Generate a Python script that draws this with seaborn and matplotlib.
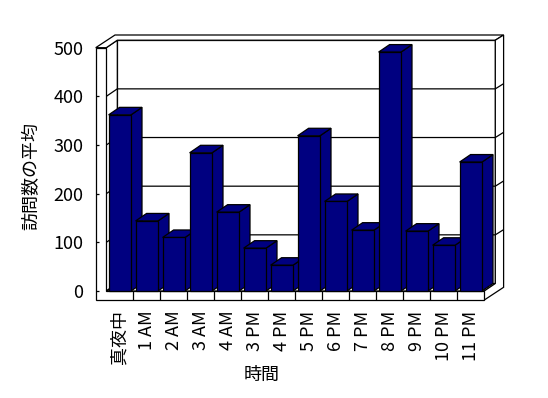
import matplotlib
matplotlib.use("Agg")
import matplotlib.pyplot as plt
import seaborn as sns
import pandas as pd
from matplotlib.patches import Polygon

# ---- data ----
categories = ["真夜中", "1 AM", "2 AM", "3 AM", "4 AM", "3 PM", "4 PM",
              "5 PM", "6 PM", "7 PM", "8 PM", "9 PM", "10 PM", "11 PM"]
values = [362, 144, 110, 284, 162, 88, 53, 319, 184, 125, 491, 123, 94, 265]
y_ticks = [0, 100, 200, 300, 400, 500]
y_tick_labels = ["0", "100", "200", "300", "400", "500"]
y_label = "訪問数の平均"
x_label = "時間"

# ---- style ----
sns.set_theme(style="white")
plt.rcParams['font.family'] = ['Noto Sans CJK JP', 'DejaVu Sans']
NAVY = "#000080"
LW = 0.9
FS = 13

W, H = 548, 398
fig = plt.figure(figsize=(W / 100, H / 100), dpi=100)
fig.patch.set_facecolor("white")

# front plane of the plot box (pixel coordinates, y downward)
FX0, FX1 = 106.3, 484.3
FY0, FY1 = 291.0, 47.7
ax = fig.add_axes([FX0 / W, 1 - FY0 / H, (FX1 - FX0) / W, (FY0 - FY1) / H])
ax.set_facecolor("none")

df = pd.DataFrame({"hour": categories, "visits": values})
sns.barplot(data=df, x="hour", y="visits", color=NAVY, saturation=1,
            width=0.83, edgecolor="black", linewidth=LW, ax=ax)

n = len(categories)
x0, x1 = -0.5, n - 0.5
ymax = y_ticks[-1]
ax.set_xlim(x0, x1)
ax.set_ylim(0, ymax)

# pixel -> data unit conversions
pxc = (FX1 - FX0) / n
pxv = (FY0 - FY1) / ymax
dxi, dyi = 11.0 / pxc, 7.5 / pxv        # interior depth
dxo, dyo = 19.3 / pxc, 12.7 / pxv       # outer depth (incl. back wall)
wl = 10.6 / pxc                         # left wall thickness
fl = 9.0 / pxv                          # floor thickness


def poly(pts, z, fc="white"):
    p = Polygon(pts, closed=True, facecolor=fc, edgecolor="black",
                linewidth=LW, zorder=z, clip_on=False, joinstyle="miter")
    ax.add_patch(p)
    return p


def line(xs, ys, z=1.5):
    ax.plot(xs, ys, color="black", lw=LW, zorder=z, clip_on=False,
            solid_capstyle="butt")


bar_patches = list(ax.patches)

# back wall inner face
poly([(x0 + dxi, dyi), (x1 + dxi, dyi), (x1 + dxi, ymax + dyi),
      (x0 + dxi, ymax + dyi)], 1)
# left wall inner face
poly([(x0, 0), (x0 + dxi, dyi), (x0 + dxi, ymax + dyi), (x0, ymax)], 1)
# floor top
poly([(x0, 0), (x1, 0), (x1 + dxi, dyi), (x0 + dxi, dyi)], 1.2)
# gridlines
for v in y_ticks[1:-1]:
    line([x0, x0 + dxi, x1 + dxi, x1 + dxo], [v, v + dyi, v + dyi, v + dyo])
# top of walls
poly([(x0 - wl, ymax), (x0, ymax), (x0 + dxi, ymax + dyi),
      (x1 + dxi, ymax + dyi), (x1 + dxo, ymax + dyo),
      (x0 - wl + dxo, ymax + dyo)], 1.3)
# right side of floor + back wall
poly([(x1, 0), (x1, -fl), (x1 + dxo, -fl + dyo), (x1 + dxo, ymax + dyo),
      (x1 + dxi, ymax + dyi), (x1 + dxi, dyi)], 1.3)
# front of left wall + floor
poly([(x0 - wl, -fl), (x1, -fl), (x1, 0), (x0, 0), (x0, ymax),
      (x0 - wl, ymax)], 1.4)
# category dividers on floor front
for k in range(1, n):
    line([k - 0.5, k - 0.5], [-fl, 0], 1.45)
# value ticks on the front edge
for v in y_ticks[:-1]:
    line([x0 - wl, x0 - wl + 3.0 / pxc], [v, v], 1.45)

# 3D bars: side + top faces from the seaborn bar patches
for i, b in enumerate(bar_patches):
    bx, bw, bh = b.get_x(), b.get_width(), b.get_height()
    base = 3 + 2 * i
    poly([(bx + bw, 0), (bx + bw + dxi, dyi), (bx + bw + dxi, bh + dyi),
          (bx + bw, bh)], base, NAVY)
    poly([(bx, bh), (bx + bw, bh), (bx + bw + dxi, bh + dyi),
          (bx + dxi, bh + dyi)], base, NAVY)
    b.set_zorder(base + 1)
    b.set_clip_on(False)

# axes decoration
for s in ax.spines.values():
    s.set_visible(False)
ax.set_yticks(y_ticks)
ax.set_yticklabels(y_tick_labels, fontsize=FS)
ax.tick_params(axis="y", length=0, pad=16.5, colors="black")
ax.set_xticks(range(n))
ax.set_xticklabels(categories, rotation=90, fontsize=FS)
ax.tick_params(axis="x", length=0, pad=14, colors="black")
ax.set_ylabel(y_label, fontsize=FS, color="black")
ax.yaxis.set_label_coords((40 - FX0) / (FX1 - FX0), (FY0 - 176) / (FY0 - FY1))
ax.set_xlabel(x_label, fontsize=FS, color="black")
ax.xaxis.set_label_coords((262 - FX0) / (FX1 - FX0), (FY0 - 366) / (FY0 - FY1))
ax.grid(False)

fig.savefig("out.png", dpi=100, facecolor="white")
